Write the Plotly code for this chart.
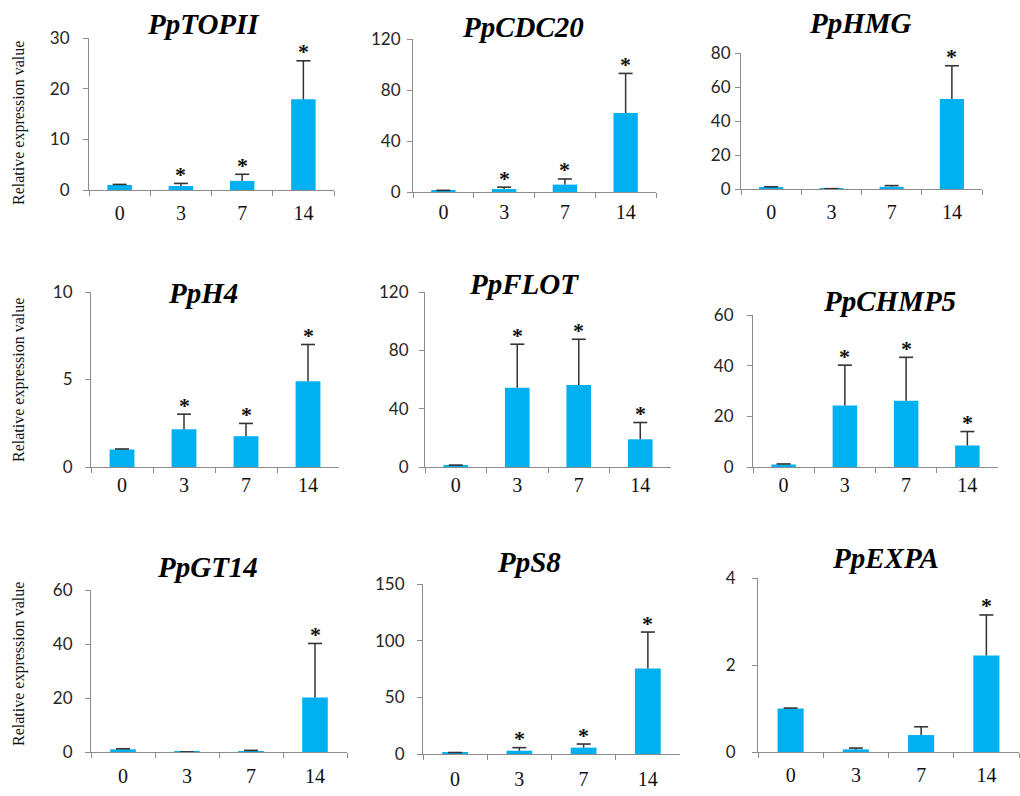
import plotly.graph_objects as go

days = ["0", "3", "7", "14"]

genes = ["PpTOPII", "PpCDC20", "PpHMG", "PpH4", "PpFLOT", "PpCHMP5", "PpGT14", "PpS8", "PpEXPA"]

topii_mean = [1.0, 0.8, 1.8, 17.9]
topii_err = [0.1, 0.5, 1.3, 7.6]
topii_sig = [False, True, True, True]

cdc20_mean = [1.0, 2.3, 5.8, 62.0]
cdc20_err = [0.3, 1.5, 4.4, 31.0]
cdc20_sig = [False, True, True, True]

hmg_mean = [1.0, 0.1, 1.3, 53.0]
hmg_err = [0.3, 0.1, 0.7, 19.5]
hmg_sig = [False, False, False, True]

h4_mean = [1.0, 2.16, 1.76, 4.9]
h4_err = [0.03, 0.86, 0.73, 2.1]
h4_sig = [False, True, True, True]

flot_mean = [1.0, 54.4, 56.2, 19.0]
flot_err = [0.3, 29.8, 31.4, 11.5]
flot_sig = [False, True, True, True]

chmp5_mean = [1.0, 24.3, 26.2, 8.5]
chmp5_err = [0.2, 15.9, 17.1, 5.5]
chmp5_sig = [False, True, True, True]

gt14_mean = [1.0, 0.02, 0.3, 20.2]
gt14_err = [0.2, 0.01, 0.3, 20.0]
gt14_sig = [False, False, False, True]

s8_mean = [1.0, 2.9, 5.6, 75.4]
s8_err = [0.3, 2.7, 3.2, 32.2]
s8_sig = [False, True, True, True]

expa_mean = [1.0, 0.06, 0.39, 2.22]
expa_err = [0.01, 0.03, 0.19, 0.93]
expa_sig = [False, False, False, True]

y_max = [30, 120, 80, 10, 120, 60, 60, 150, 4]
y_dtick = [10, 40, 20, 5, 40, 20, 20, 50, 2]

means = [topii_mean, cdc20_mean, hmg_mean, h4_mean, flot_mean, chmp5_mean, gt14_mean, s8_mean, expa_mean]
errs = [topii_err, cdc20_err, hmg_err, h4_err, flot_err, chmp5_err, gt14_err, s8_err, expa_err]
sigs = [topii_sig, cdc20_sig, hmg_sig, h4_sig, flot_sig, chmp5_sig, gt14_sig, s8_sig, expa_sig]

# layout (pixel boxes): x0, x1, y_top, y_bottom
W, H = 1020, 796
boxes = [
    (89, 334, 38, 190), (413, 656, 39, 192), (741, 982, 53, 189),
    (91, 339, 292, 467), (425, 671, 292, 467), (753, 998, 315, 467),
    (91, 347, 590, 752), (423, 680, 584, 754), (758, 1019, 578, 752),
]
title_pos = [(203, 24), (523, 27), (860, 23), (203, 293), (524, 284), (889, 301),
             (207, 567), (529, 562), (885, 558)]
ylab_gap = [20, 13, 11, 19, 17, 20, 19, 19, 23]
xlab_standoff = [5, 2, 5, 0, 0, 0, 6, 7, 5]

BAR = "#00B0F0"
AX = "#8c8c8c"
ERR = "#333333"

fig = go.Figure()
annotations = []
for i in range(9):
    k = "" if i == 0 else str(i + 1)
    x0, x1, yt, yb = boxes[i]
    m, e = means[i], errs[i]
    tops = [a + b for a, b in zip(m, e)]
    fig.add_trace(go.Bar(
        x=days, y=m, xaxis="x" + k, yaxis="y" + k,
        marker=dict(color=BAR, line=dict(width=0)),
        showlegend=False, hoverinfo="skip",
    ))
    seg_x, seg_y = [], []
    for d, a, t in zip(days, m, tops):
        seg_x += [d, d, None]
        seg_y += [a, t, None]
    fig.add_trace(go.Scatter(
        x=seg_x, y=seg_y, xaxis="x" + k, yaxis="y" + k, mode="lines",
        line=dict(color=ERR, width=1.5), showlegend=False, hoverinfo="skip",
    ))
    fig.add_trace(go.Scatter(
        x=days, y=tops, xaxis="x" + k, yaxis="y" + k, mode="markers",
        marker=dict(symbol="line-ew", size=10, line=dict(color=ERR, width=1.6)),
        showlegend=False, hoverinfo="skip", cliponaxis=False,
    ))
    fig.update_layout(**{
        "xaxis" + k: dict(
            domain=[x0 / W, x1 / W], anchor="y" + k, type="category",
            categoryorder="array", categoryarray=days, range=[-0.5, 3.5],
            showline=True, linecolor=AX, linewidth=1.2, ticks="outside", ticklen=5,
            tickcolor=AX, tickwidth=1.2, tickson="boundaries", showgrid=False,
            tickfont=dict(family="Liberation Serif", size=20, color="#111111"),
            ticklabelstandoff=xlab_standoff[i], fixedrange=True, automargin=False,
        ),
        "yaxis" + k: dict(
            domain=[1 - yb / H, 1 - yt / H], anchor="x" + k, range=[0, y_max[i]],
            dtick=y_dtick[i], tick0=0, showline=True, linecolor=AX, linewidth=1.2,
            ticks="outside", ticklen=5, tickcolor=AX, tickwidth=1.2,
            showgrid=False, zeroline=False,
            tickfont=dict(family="Lato", size=17, color="#262626"),
            ticklabelstandoff=max(ylab_gap[i] - 10, 0), fixedrange=True, automargin=False,
        ),
    })
    tx, ty = title_pos[i]
    annotations.append(dict(
        text="<b><i>" + genes[i] + "</i></b>", x=tx / W, y=1 - ty / H,
        xref="paper", yref="paper", xanchor="center", yanchor="middle", showarrow=False,
        font=dict(family="Liberation Serif", size=29, color="#000000"),
    ))
    for j in range(4):
        if sigs[i][j]:
            annotations.append(dict(
                text="<b>*</b>", x=j, y=tops[j], xref="x" + k, yref="y" + k,
                xanchor="center", yanchor="middle", yshift=9, showarrow=False,
                font=dict(family="Liberation Serif", size=22, color="#111111"),
            ))

for cy in [123, 380, 664]:
    annotations.append(dict(
        text="Relative expression value", x=19 / W, y=1 - cy / H, xref="paper", yref="paper",
        xanchor="center", yanchor="middle", textangle=-90, showarrow=False,
        font=dict(family="Liberation Serif", size=16, color="#111111"),
    ))

fig.update_layout(
    template="none",
    width=W, height=H, margin=dict(l=0, r=0, t=0, b=0, pad=0),
    paper_bgcolor="white", plot_bgcolor="white", bargap=0.6,
    annotations=annotations,
)
fig.write_html(
    "out.html",
    config={"displayModeBar": False},
    post_script="document.body.style.margin='0';document.body.style.overflow='hidden';",
)
